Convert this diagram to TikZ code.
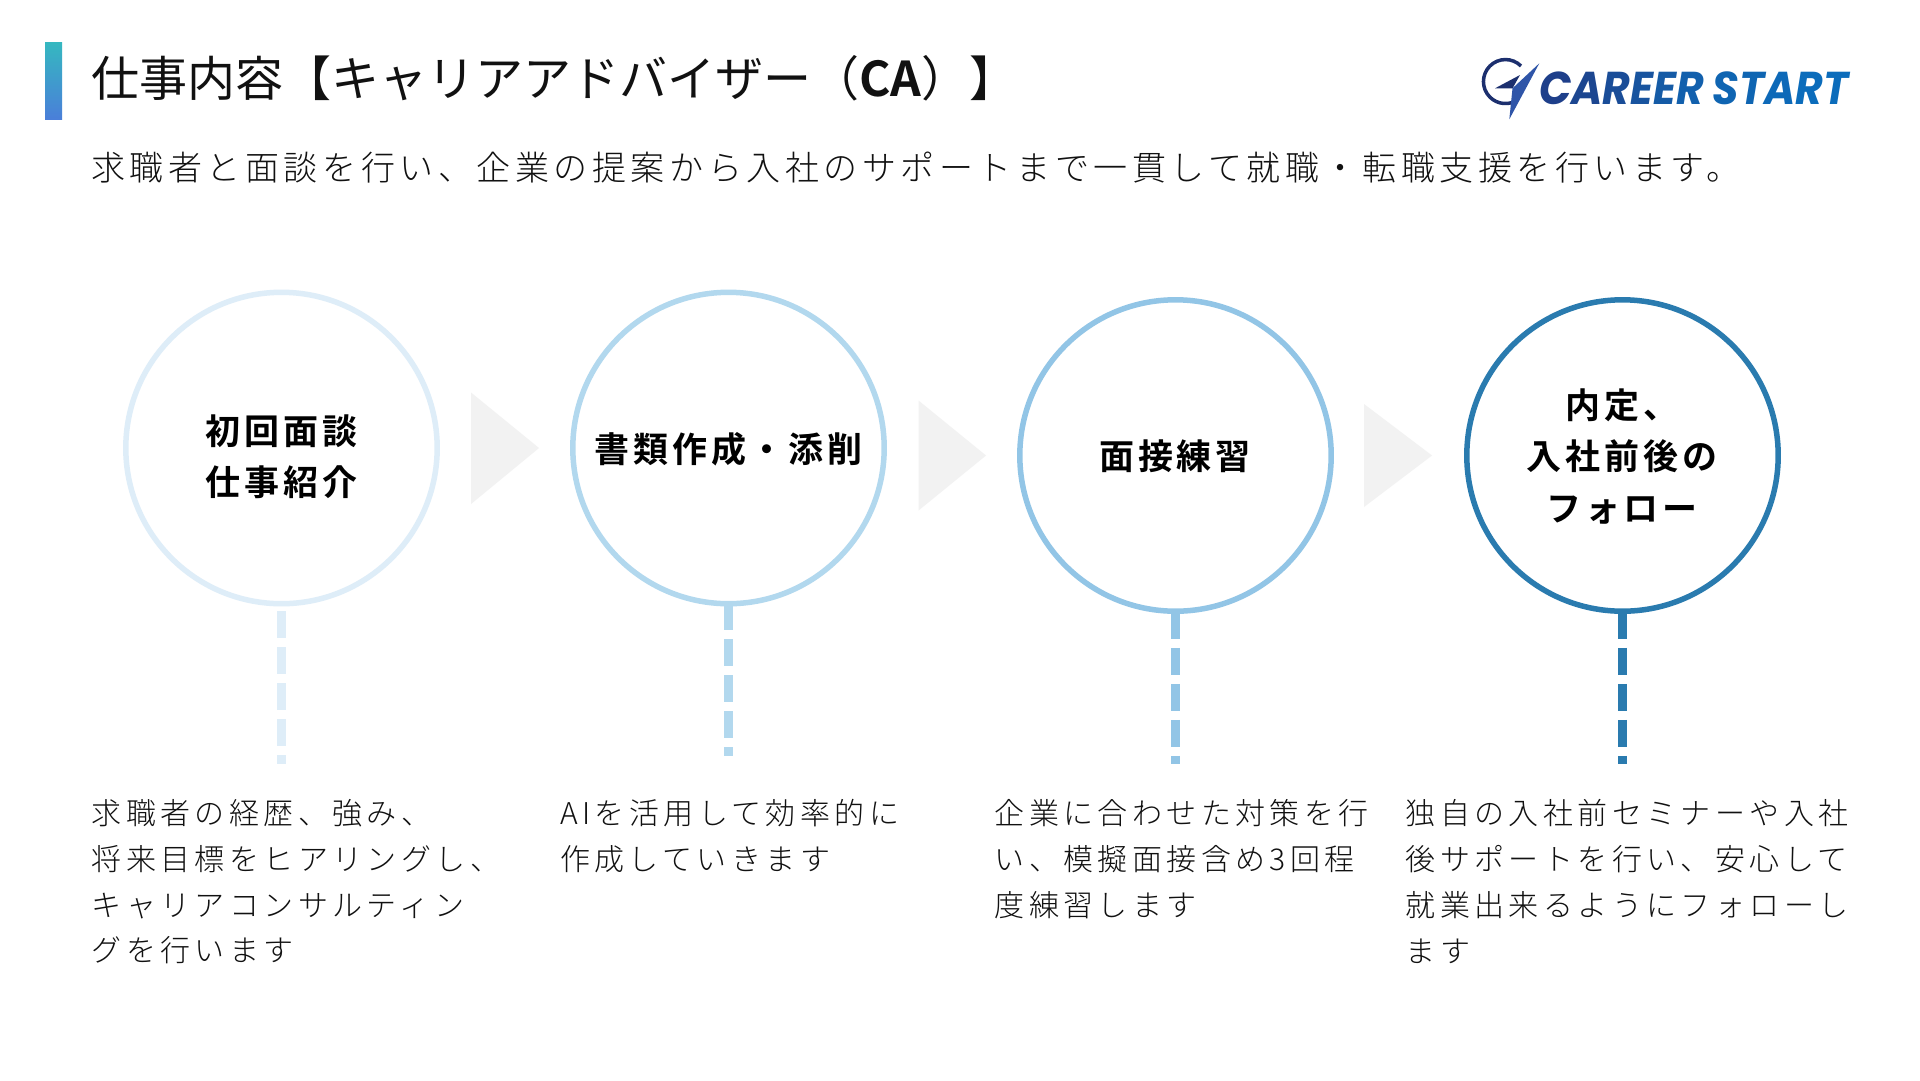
\documentclass[tikz,border=0pt]{standalone}
\usepackage{fontspec}
\setmainfont{Noto Sans CJK JP}[UprightFont=* Light,BoldFont=*]
\newfontfamily\titlefont{Noto Sans CJK JP}[UprightFont=*,BoldFont=* Bold]
\newfontfamily\subfont{Noto Sans CJK JP}[UprightFont=* Light,LetterSpace=13.4]
\newfontfamily\descfont{Noto Sans CJK JP}[UprightFont=* Light,LetterSpace=14.7]
\newfontfamily\labelfont{Noto Sans CJK JP}[UprightFont=* Bold,LetterSpace=10.8]
\newfontfamily\logofont{Poppins}[UprightFont=* Bold Italic,LetterSpace=-3.5]
\definecolor{ringa}{HTML}{DEEDF8}
\definecolor{ringb}{HTML}{B2D8EE}
\definecolor{ringc}{HTML}{92C5E6}
\definecolor{ringd}{HTML}{2A7BAF}
\definecolor{arrowgray}{HTML}{F2F2F2}
\definecolor{textdark}{HTML}{111111}
\definecolor{logonavy}{HTML}{1C2F6E}
\definecolor{logoblue}{HTML}{2F55A8}
\definecolor{barTop}{HTML}{35B8C0}
\definecolor{barBot}{HTML}{4A7FD9}
\definecolor{la}{HTML}{1E3F8A}\definecolor{lb}{HTML}{1C4690}\definecolor{lc}{HTML}{1A4D98}
\definecolor{ld}{HTML}{18549F}\definecolor{le}{HTML}{155BA6}\definecolor{lf}{HTML}{1260AD}
\definecolor{lg}{HTML}{0F65B2}\definecolor{lh}{HTML}{0D69B8}\definecolor{li}{HTML}{0B6CBB}
\tikzset{
  ring/.style={circle,draw=#1,line width=5.5pt,minimum size=311.4pt,inner sep=0pt},
  ringlabel/.style={inner sep=0pt,align=center,text=black,
    font=\labelfont\fontsize{35}{51.4}\selectfont},
  stem/.style={draw=#1,line width=9.5pt,dash pattern=on 27pt off 9pt},
  chevron/.style={fill=arrowgray,draw=none},
  desc/.style={anchor=north west,inner sep=0pt,align=left,text=textdark,
    font=\descfont\fontsize{30}{45.7}\selectfont},
}
\begin{document}
\begin{tikzpicture}[x=1pt,y=-1pt]
\useasboundingbox (0,0) rectangle (1920,1080);
\fill[white] (0,0) rectangle (1920,1080);
% title
\shade[top color=barTop,bottom color=barBot] (45,42) rectangle (62,119);
\node[anchor=base west,inner sep=0pt,text=textdark] (title) at (91,96)
  {\titlefont\fontsize{48}{50}\selectfont 仕事内容【キャリアアドバイザー（{\bfseries CA}）】};
\node[anchor=base west,inner sep=0pt,text=textdark] (sub) at (91,180)
  {\subfont\fontsize{34}{36}\selectfont 求職者と面談を行い、企業の提案から入社のサポートまで一貫して就職・転職支援を行います。};
% logo
\draw[logonavy,line width=3.5pt] (1521,66) arc[start angle=45,end angle=305,radius=22pt];
\fill[logoblue] (1539.3,63.3) -- (1509.3,119.3) -- (1512.5,88.3) -- cycle;
\fill[logonavy] (1495,88.3) -- (1520,75) -- (1512.5,88.3) -- cycle;
\node[anchor=base west,inner sep=0pt] (logo) at (1539,104)
  {\scalebox{0.925}[1]{\logofont\fontsize{46}{50}\selectfont\textcolor{la}{C}\textcolor{lb}{A}\textcolor{lc}{R}\textcolor{ld}{E}\textcolor{le}{E}\textcolor{lf}{R} \textcolor{lg}{S}\textcolor{lg}{T}\textcolor{lh}{A}\textcolor{li}{R}\textcolor{li}{T}}};
% rings
\node[ring=ringa] (c1) at (281.5,448) {};
\node[ring=ringb] (c2) at (728.5,448) {};
\node[ring=ringc] (c3) at (1175.5,455.5) {};
\node[ring=ringd] (c4) at (1622.5,455.5) {};
\node[ringlabel] (l1) at (281.5,456.5) {初回面談\\仕事紹介};
\node[ringlabel] (l2) at (728.5,449) {書類作成・添削};
\node[ringlabel] (l3) at (1175,456.5) {面接練習};
\node[ringlabel] (l4) at (1622,456.5) {内定、\\入社前後の\\フォロー};
% arrows
\fill[chevron] (471,392.5) -- (539,448) -- (471,504) -- cycle;
\fill[chevron] (918.5,400.5) -- (986,455.5) -- (918.5,510.5) -- cycle;
\fill[chevron] (1364,404) -- (1432,455.5) -- (1364,507) -- cycle;
% stems
\coordinate (e1) at (281.5,764);
\coordinate (e2) at (728.5,756);
\coordinate (e3) at (1175.5,764);
\coordinate (e4) at (1622.5,764);
\draw[stem=ringa] ([yshift=-5pt]c1.south) -- (e1);
\draw[stem=ringb] ([yshift=3pt]c2.south) -- (e2);
\draw[stem=ringc] ([yshift=2pt]c3.south) -- (e3);
\draw[stem=ringd] ([yshift=2pt]c4.south) -- (e4);
% descriptions
\node[desc] (d1) at (91.5,799.5) {求職者の経歴、強み、\\将来目標をヒアリングし、\\キャリアコンサルティン\\グを行います};
\node[desc] (d2) at (560,799.5) {AIを活用して効率的に\\作成していきます};
\node[desc] (d3) at (994.5,799.5) {企業に合わせた対策を行\\い、模擬面接含め3回程\\度練習します};
\node[desc] (d4) at (1405.5,799.5) {独自の入社前セミナーや入社\\後サポートを行い、安心して\\就業出来るようにフォローし\\ます};
\end{tikzpicture}
\end{document}
